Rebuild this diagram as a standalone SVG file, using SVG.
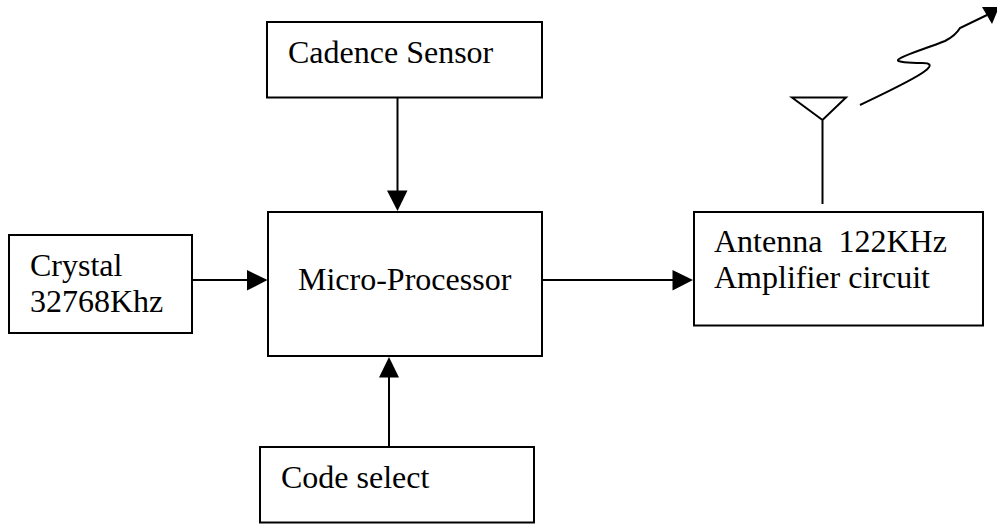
<svg xmlns="http://www.w3.org/2000/svg" width="997" height="524" viewBox="0 0 997 524">
<defs>
<style>
.box{fill:#fff;stroke:#000;stroke-width:2}
.ln{fill:none;stroke:#000;stroke-width:2}
.ar{fill:#000;stroke:none}
text{font-family:"Liberation Serif","Times New Roman",serif;font-size:32px;fill:#000}
</style>
</defs>
<rect width="997" height="524" fill="#fff"/>
<g id="connectors">
<path class="ln" d="M397.500 97V191"/><path class="ar" d="M387 190.500H407.500L397.500 211Z"/>
<path class="ln" d="M192 280H248"/><path class="ar" d="M247 270L267.500 280L247 290.500Z"/>
<path class="ln" d="M389 447V377"/><path class="ar" d="M379 377.500H399L389 357Z"/>
<path class="ln" d="M542 280H673"/><path class="ar" d="M672.500 270L693 280L672.500 290.500Z"/>
</g>
<g id="antenna"><path class="ln" d="M792 97.500H846L822.500 120L792 97.500ZM822.500 120V204"/></g>
<g id="signal"><path class="ln" d="M860 105C885 93 915 79 925 71C933 65 930 63 922 63C908 63 897 62 898 60C900 56 925 49 945 41C953 37 957 33 960 28L987 15"/><path class="ar" d="M982 7H997V12L992 24Z"/></g>
<g id="cadence"><rect class="box" x="267" y="22" width="275" height="75.500"/><text x="288" y="63">Cadence Sensor</text></g>
<g id="crystal"><rect class="box" x="9" y="235" width="183" height="98"/><text x="30" y="276">Crystal</text><text x="30" y="312">32768Khz</text></g>
<g id="micro"><rect class="box" x="268" y="212" width="274" height="144"/><text x="298" y="290">Micro-Processor</text></g>
<g id="amp"><rect class="box" x="694" y="212" width="289" height="113.500"/><text x="714" y="252" xml:space="preserve">Antenna  122KHz</text><text x="714" y="288">Amplifier circuit</text></g>
<g id="code"><rect class="box" x="260" y="447" width="274" height="75.500"/><text x="281" y="488">Code select</text></g>
</svg>
